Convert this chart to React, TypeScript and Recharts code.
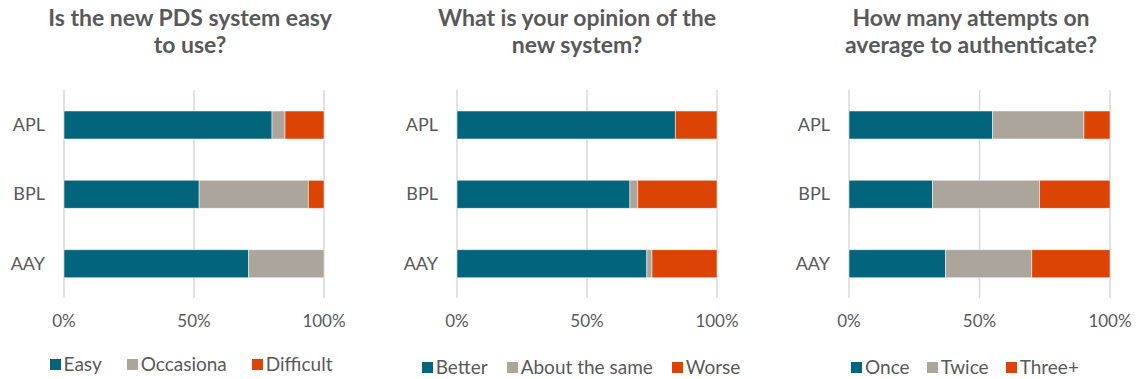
import React from "react";
import {
  BarChart,
  Bar,
  XAxis,
  YAxis,
  CartesianGrid,
} from "recharts";

const CATEGORIES = ["APL", "BPL", "AAY"];
const X_TICKS = [0, 50, 100];

// Q1: ease of use
const EASE_EASY = [80, 52, 71];
const EASE_OCCASIONAL = [5, 42, 29];
const EASE_DIFFICULT = [15, 6, 0];

// Q2: opinion of the new system
const OPINION_BETTER = [84, 66.5, 73];
const OPINION_SAME = [0, 3, 2];
const OPINION_WORSE = [16, 30.5, 25];

// Q3: authentication attempts
const ATTEMPTS_ONCE = [55, 32, 37];
const ATTEMPTS_TWICE = [35, 41, 33];
const ATTEMPTS_THREE = [10, 27, 30];

const TEAL = "#03657B";
const GREY = "#ACA59C";
const ORANGE = "#DC4405";
const TEXT = "#595959";
const FONT = "Lato, 'Open Sans', sans-serif";

type Series = { key: string; name: string; color: string; values: number[] };

interface PanelProps {
  left: number;
  title: string[];
  titleCenter: number;
  legendCenter: number;
  legendTop: number;
  legendGap: number;
  marginLeft: number;
  marginRight: number;
  series: Series[];
}

function Panel({ left, title, titleCenter, legendCenter, legendTop, legendGap, marginLeft, marginRight, series }: PanelProps) {
  const data = CATEGORIES.map((cat, i) => {
    const row: Record<string, string | number> = { cat };
    series.forEach((s) => (row[s.key] = s.values[i]));
    return row;
  });

  return (
    <div style={{ position: "absolute", left, top: 0, width: 379, height: 379 }}>
      <div
        style={{
          position: "absolute",
          left: titleCenter - 200,
          width: 400,
          top: 4,
          textAlign: "center",
          fontFamily: FONT,
          fontWeight: 700,
          fontSize: 23,
          lineHeight: "27px",
          color: TEXT,
        }}
      >
        {title.map((t) => (
          <div key={t}>{t}</div>
        ))}
      </div>
      <BarChart
        width={379}
        height={379}
        data={data}
        layout="vertical"
        barSize={28}
        margin={{ top: 90, right: marginRight, bottom: 41, left: marginLeft }}
      >
        <CartesianGrid horizontal={false} stroke="#D9D9D9" strokeWidth={1.5} />
        <XAxis
          type="number"
          domain={[0, 100]}
          ticks={X_TICKS}
          tickFormatter={(v: number) => `${v}%`}
          axisLine={false}
          tickLine={false}
          tickMargin={11}
          height={40}
          tick={{ fill: TEXT, fontSize: 17, fontFamily: FONT }}
        />
        <YAxis
          type="category"
          dataKey="cat"
          axisLine={false}
          tickLine={false}
          width={50}
          tickMargin={13}
          tick={{ fill: TEXT, fontSize: 18, fontFamily: FONT }}
        />
        {series.map((s) => (
          <Bar
            key={s.key}
            dataKey={s.key}
            name={s.name}
            stackId="a"
            fill={s.color}
            stroke="#FFFFFF"
            strokeWidth={0.5}
            isAnimationActive={false}
          />
        ))}
      </BarChart>
      <div
        style={{
          position: "absolute",
          left: legendCenter - 200,
          width: 400,
          top: legendTop,
          display: "flex",
          justifyContent: "center",
          gap: legendGap,
          fontFamily: FONT,
          fontSize: 19,
          color: TEXT,
          lineHeight: "18px",
        }}
      >
        {series.map((s) => (
          <div key={s.key} style={{ display: "flex", alignItems: "center" }}>
            <span style={{ display: "inline-block", width: 11, height: 11, background: s.color, marginRight: 3 }} />
            {s.name}
          </div>
        ))}
      </div>
    </div>
  );
}

export default function App() {
  return (
    <div style={{ position: "absolute", left: 0, top: 0, width: 1137, height: 379, background: "#fff", overflow: "hidden" }}>
      <Panel
        left={0}
        title={["Is the new PDS system easy", "to use?"]}
        titleCenter={190}
        legendCenter={191}
        legendTop={355}
        legendGap={25}
        marginLeft={14}
        marginRight={55}
        series={[
          { key: "easy", name: "Easy", color: TEAL, values: EASE_EASY },
          { key: "occ", name: "Occasiona", color: GREY, values: EASE_OCCASIONAL },
          { key: "diff", name: "Difficult", color: ORANGE, values: EASE_DIFFICULT },
        ]}
      />
      <Panel
        left={379}
        title={["What is your opinion of the", "new system?"]}
        titleCenter={198}
        legendCenter={202}
        legendTop={358}
        legendGap={19}
        marginLeft={28}
        marginRight={41}
        series={[
          { key: "better", name: "Better", color: TEAL, values: OPINION_BETTER },
          { key: "same", name: "About the same", color: GREY, values: OPINION_SAME },
          { key: "worse", name: "Worse", color: ORANGE, values: OPINION_WORSE },
        ]}
      />
      <Panel
        left={758}
        title={["How many attempts on", "average to authenticate?"]}
        titleCenter={213}
        legendCenter={207}
        legendTop={358}
        legendGap={17}
        marginLeft={41}
        marginRight={27}
        series={[
          { key: "once", name: "Once", color: TEAL, values: ATTEMPTS_ONCE },
          { key: "twice", name: "Twice", color: GREY, values: ATTEMPTS_TWICE },
          { key: "three", name: "Three+", color: ORANGE, values: ATTEMPTS_THREE },
        ]}
      />
    </div>
  );
}
